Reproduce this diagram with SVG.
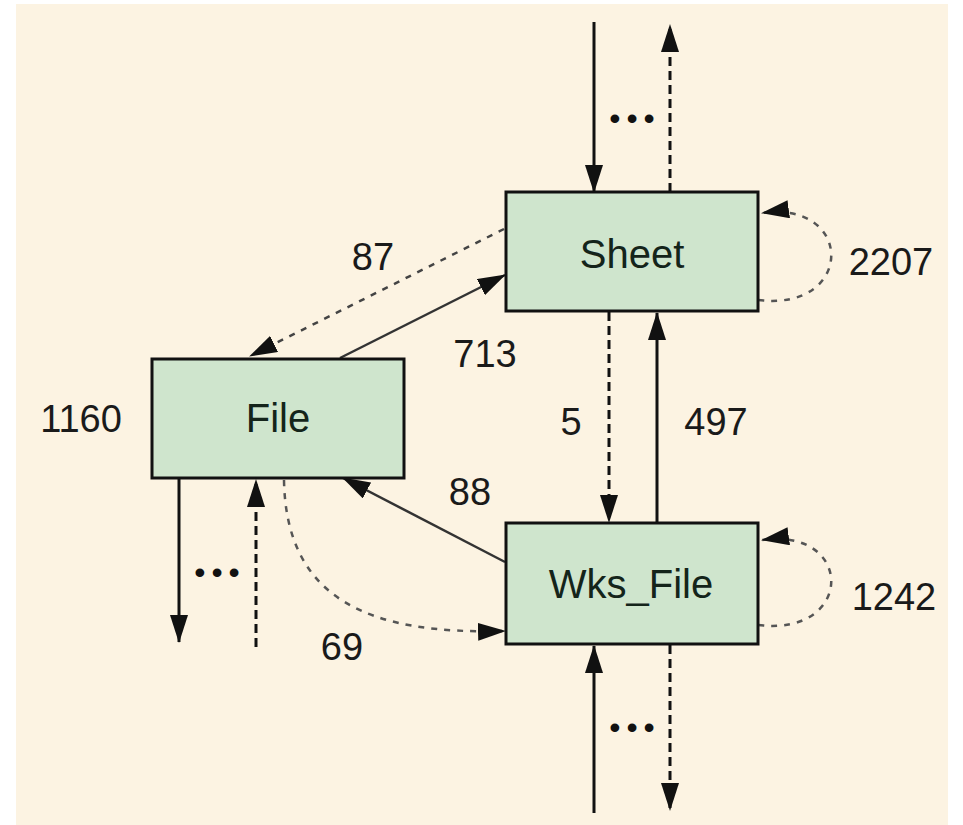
<svg xmlns="http://www.w3.org/2000/svg" width="963" height="825" viewBox="0 0 963 825">
  <style>
    .box { fill: #cfe5cd; stroke: #111; stroke-width: 3; }
    .name { font-family: "Liberation Sans", Arial, sans-serif; font-size: 40px; fill: #14241a; text-anchor: middle; }
    .num { font-family: "Liberation Sans", Arial, sans-serif; font-size: 38px; fill: #1a1a1a; text-anchor: middle; }
    .dots { font-family: "Liberation Sans", Arial, sans-serif; font-size: 32px; fill: #111; text-anchor: middle; letter-spacing: 6px; }
    .solid { fill: none; stroke: #111; stroke-width: 3; }
    .dash { fill: none; stroke: #111; stroke-width: 3; stroke-dasharray: 9 5; }
    .diag { fill: none; stroke: #333; stroke-width: 2.5; }
    .ddiag { fill: none; stroke: #444; stroke-width: 2.5; stroke-dasharray: 6 7; }
    .curve { fill: none; stroke: #555; stroke-width: 2.5; stroke-dasharray: 6 7; }
  </style>
  <defs>
    <marker id="head" viewBox="0 0 28 18" refX="27" refY="9" markerWidth="28" markerHeight="18" orient="auto" markerUnits="userSpaceOnUse">
      <path d="M0,0 L28,9 L0,18 Z" fill="#111"/>
    </marker>
  </defs>

  <!-- paper -->
  <rect x="0" y="0" width="963" height="825" fill="#ffffff"/>
  <rect x="16" y="4" width="932" height="821" fill="#fcf3e2"/>

  <!-- connectors -->
  <g id="connectors">
    <!-- Sheet: outer calls -->
    <line class="solid" x1="594" y1="22" x2="594" y2="192" marker-end="url(#head)"/>
    <line class="dash" x1="670" y1="192" x2="670" y2="25" marker-end="url(#head)"/>
    <!-- Sheet <-> File -->
    <line class="ddiag" x1="504" y1="229" x2="250" y2="356" marker-end="url(#head)"/>
    <line class="diag" x1="340" y1="358" x2="505" y2="275" marker-end="url(#head)"/>
    <!-- Sheet <-> Wks_File -->
    <line class="dash" x1="609" y1="312" x2="609" y2="522" marker-end="url(#head)"/>
    <line class="solid" x1="657" y1="523" x2="657" y2="313" marker-end="url(#head)"/>
    <!-- Wks_File <-> File -->
    <line class="diag" x1="505" y1="562" x2="343" y2="478" marker-end="url(#head)"/>
    <path class="curve" d="M284,480 C286,600 370,635 505,631" marker-end="url(#head)"/>
    <!-- self loops -->
    <path class="curve" d="M758,300 C855,312 855,200 762,213" marker-end="url(#head)"/>
    <path class="curve" d="M758,625 C855,637 855,527 762,540" marker-end="url(#head)"/>
    <!-- Wks_File: outer calls -->
    <line class="solid" x1="594" y1="813" x2="594" y2="646" marker-end="url(#head)"/>
    <line class="dash" x1="670" y1="645" x2="670" y2="810" marker-end="url(#head)"/>
    <!-- File: outer calls -->
    <line class="solid" x1="179" y1="478" x2="179" y2="642" marker-end="url(#head)"/>
    <line class="dash" x1="256" y1="647" x2="256" y2="480" marker-end="url(#head)"/>
  </g>

  <!-- nodes -->
  <g id="sheet">
    <rect class="box" x="506" y="192" width="252" height="119"/>
    <text class="name" x="632" y="268">Sheet</text>
  </g>
  <g id="file">
    <rect class="box" x="152" y="359" width="252" height="119"/>
    <text class="name" x="278" y="432">File</text>
  </g>
  <g id="wks_file">
    <rect class="box" x="506" y="523" width="252" height="121"/>
    <text class="name" x="631" y="598">Wks_File</text>
  </g>

  <!-- counts -->
  <g id="labels">
    <text class="num" x="373" y="270">87</text>
    <text class="num" x="485" y="367">713</text>
    <text class="num" x="81" y="432">1160</text>
    <text class="num" x="571" y="435">5</text>
    <text class="num" x="716" y="435">497</text>
    <text class="num" x="470" y="505">88</text>
    <text class="num" x="342" y="660">69</text>
    <text class="num" x="891" y="275">2207</text>
    <text class="num" x="894" y="610">1242</text>
    <text class="dots" x="635" y="129">•••</text>
    <text class="dots" x="635" y="738">•••</text>
    <text class="dots" x="220" y="583">•••</text>
  </g>
</svg>
